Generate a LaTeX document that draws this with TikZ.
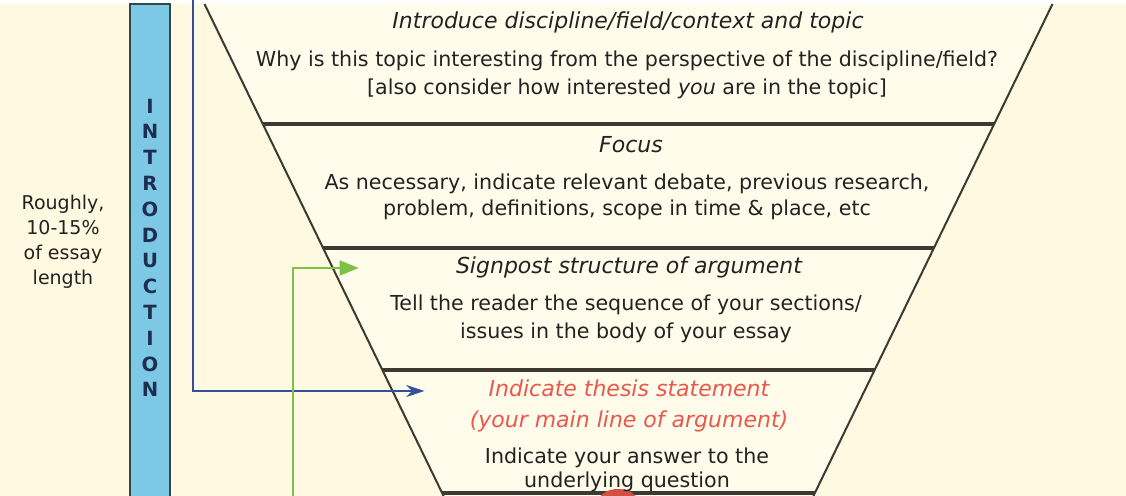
\documentclass[tikz,border=0pt]{standalone}
\usepackage{fontspec}
\setmainfont{DejaVu Sans}
\usepackage{tikz}
\usetikzlibrary{positioning,arrows.meta,calc}
\definecolor{crema}{HTML}{FFF9E1}
\definecolor{cremaclaro}{HTML}{FFFCEC}
\definecolor{celeste}{HTML}{7DC8E4}
\definecolor{pizarra}{HTML}{2F4A4C}
\definecolor{marino}{HTML}{1E2E50}
\definecolor{tinta}{HTML}{222220}
\definecolor{rojo}{HTML}{E9584A}
\definecolor{azul}{HTML}{34509A}
\definecolor{verde}{HTML}{7DC243}
\definecolor{linea}{HTML}{3C3A33}

\begin{document}
\begin{tikzpicture}[x=0.5pt,y=-0.5pt,
      titulo/.style={font=\fontsize{11}{13}\selectfont\itshape,text=tinta,
                     text height=8.5pt,text depth=2.5pt,inner sep=2pt},
      cuerpo/.style={font=\fontsize{10.3}{14}\selectfont,text=tinta,align=center,inner sep=2pt},
      letra/.style={font=\fontsize{9.8}{10}\selectfont\bfseries,text=marino,inner sep=0pt},
      divisor/.style={line width=1.6pt,linea},
      embudo/.style={line width=1pt,linea},
      flechaazul/.style={-{Stealth[length=9pt,width=6pt]},line width=1pt,azul},
      flechaverde/.style={-{Triangle[length=9.5pt,width=7.5pt]},line width=1pt,verde},
      node distance=0pt]
    \clip (0,0) rectangle (1126,496);
    \fill[white] (0,0) rectangle (1126,496);
    \fill[crema] (0,4) rectangle (1126,496);
    \coordinate (ai) at (204.5,4);
    \coordinate (ad) at (1052.5,4);
    \coordinate (bi) at (443.6,496);
    \coordinate (bd) at (813.4,496);
    \fill[cremaclaro] (ai) -- (ad) -- (bd) -- (bi) -- cycle;
    \draw[embudo] (ai) -- (bi) (ad) -- (bd);
    \foreach \y [evaluate=\y as \t using (\y-4)/492] in {124,248,370,493}
      \draw[divisor] ($(ai)!\t!(bi)$) -- ($(ad)!\t!(bd)$);
    \fill[rojo!90!black] (618,501) ellipse (19 and 12);
    \draw[pizarra,line width=1.2pt,fill=celeste] (130,4) rectangle (170,505);
    \foreach \l [count=\i from 0] in {I,N,T,R,O,D,U,C,T,I,O,N}
      \node[letra] (letra\i) at (150,{106+25.8*\i}) {\l};
    \node[cuerpo,font=\fontsize{9.5}{12.5}\selectfont] (rotulo) at (63,242) {Roughly,\\10-15\%\\of essay\\length};
    \node[titulo] (t1) at (628,23) {Introduce discipline/field/context and topic};
    \node[cuerpo] (c1) at (627,75) {Why is this topic interesting from the perspective of the discipline/field?\\{}[also consider how interested \textit{you} are in the topic]};
    \node[titulo] (t2) at (631,147) {Focus};
    \node[cuerpo,font=\fontsize{10.3}{13}\selectfont] (c2) at (627,197) {As necessary, indicate relevant debate, previous research,\\problem, definitions, scope in time \& place, etc};
    \node[titulo] (t3) at (629,268) {Signpost structure of argument};
    \node[cuerpo] (c3) at (626,319) {Tell the reader the sequence of your sections/\\issues in the body of your essay};
    \node[titulo,text=rojo] (t4) at (629,391) {Indicate thesis statement};
    \node[titulo,text=rojo,below=of t4] (t4b) {(your main line of argument)};
    \node[cuerpo,font=\fontsize{10.3}{12}\selectfont] (c4) at (627,470) {Indicate your answer to the\\underlying question};
    \coordinate (inicioazul) at (193,0);
    \coordinate (inicioverde) at (293,500);
    \draw[flechaazul] (inicioazul) |- ($(t4.west)+(-60,0)$);
    \draw[flechaverde] (inicioverde) |- ($(t3.west)+(-93,0)$);
  \end{tikzpicture}
\end{document}
